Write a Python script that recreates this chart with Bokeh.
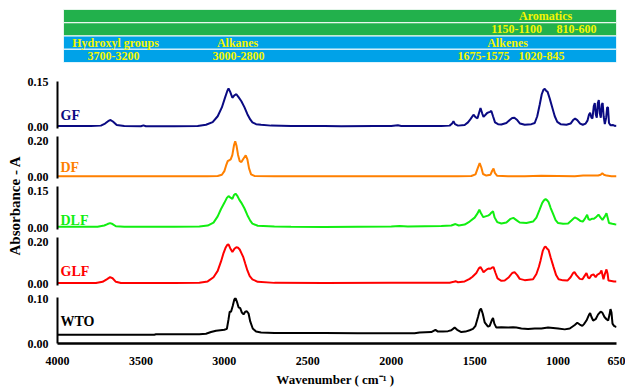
import math
from bokeh.plotting import figure
from bokeh.models import Range1d, FixedTicker, Label, PrintfTickFormatter
from bokeh.layouts import row, column
from bokeh.embed import file_html
from bokeh.resources import INLINE
from bokeh.core.properties import value

FONT = "Liberation Serif"

# ---------------- data ----------------
x_ticks = [4000, 3500, 3000, 2500, 2000, 1500, 1000, 650]

band_colors = ["#22B14C", "#22B14C", "#00A2E8", "#00A2E8"]
band_bottom = [3, 2, 1, 0]
band_top = [4, 3, 2, 1]
band_left_wn = 3965
band_right_wn = 650
band_labels = ["Aromatics", "1150-1100", "810-600", "Hydroxyl groups", "Alkanes", "Alkenes",
               "3700-3200", "3000-2800", "1675-1575", "1020-845"]
band_label_wn = [1075, 1249, 890, 3652, 2921, 1303, 3664, 2915, 1447, 1099]
band_label_row = [3.5, 2.5, 2.5, 1.5, 1.5, 1.5, 0.5, 0.5, 0.5, 0.5]

gf_wn = [4000, 3800, 3740, 3715, 3695, 3682, 3668, 3645, 3600, 3500, 3485, 3470, 3300, 3160, 3110,
         3070, 3040, 3015, 2995, 2982, 2975, 2965, 2952, 2940, 2928, 2915, 2898, 2880, 2862, 2845,
         2832, 2810, 2780, 2720, 2600, 2400, 2300, 2100, 2000, 1960, 1940, 1800, 1700, 1650, 1635,
         1627, 1618, 1600, 1560, 1540, 1525, 1507, 1495, 1483, 1473, 1465, 1455, 1447, 1435, 1425,
         1417, 1408, 1400, 1390, 1378, 1360, 1340, 1310, 1290, 1275, 1262, 1245, 1228, 1200, 1160,
         1140, 1125, 1110, 1098, 1088, 1080, 1072, 1063, 1050, 1035, 1020, 1005, 985, 950, 925,
         910, 898, 885, 868, 852, 835, 824, 815, 808, 800, 794, 786, 780, 774, 768,
         762, 756, 750, 744, 738, 733, 727, 720, 712, 706, 701, 695, 685, 670, 660, 650]
gf_abs = [0.002, 0.002, 0.003, 0.010, 0.019, 0.022, 0.017, 0.005, 0.002, 0.001, 0.004, 0.001, 0.001, 0.002, 0.006,
          0.015, 0.035, 0.065, 0.100, 0.122, 0.130, 0.118, 0.098, 0.106, 0.110, 0.100, 0.086, 0.066, 0.042, 0.024,
          0.014, 0.008, 0.006, 0.003, 0.002, 0.002, 0.001, 0.002, 0.002, 0.004, 0.002, 0.002, 0.002, 0.003, 0.010,
          0.018, 0.008, 0.003, 0.005, 0.014, 0.025, 0.040, 0.032, 0.028, 0.048, 0.063, 0.045, 0.033, 0.040, 0.046,
          0.048, 0.050, 0.053, 0.035, 0.014, 0.008, 0.007, 0.012, 0.022, 0.029, 0.030, 0.022, 0.010, 0.006, 0.008,
          0.012, 0.035, 0.075, 0.110, 0.125, 0.128, 0.122, 0.118, 0.095, 0.065, 0.035, 0.016, 0.008, 0.006, 0.010,
          0.022, 0.027, 0.022, 0.010, 0.006, 0.010, 0.020, 0.040, 0.047, 0.030, 0.028, 0.070, 0.080, 0.040, 0.030,
          0.080, 0.090, 0.045, 0.030, 0.075, 0.080, 0.035, 0.008, 0.030, 0.065, 0.065, 0.012, 0.004, 0.005, 0.002, 0.003]

df_wn = [4000, 3500, 3100, 3040, 3015, 3000, 2990, 2980, 2972, 2962, 2952, 2942, 2935, 2927, 2918,
         2908, 2898, 2885, 2872, 2862, 2852, 2840, 2820, 2700, 2000, 1800, 1700, 1600, 1520, 1495,
         1482, 1470, 1460, 1450, 1430, 1405, 1395, 1387, 1379, 1365, 1300, 1200, 1100, 1000, 900,
         850, 800, 760, 745, 735, 725, 710, 680, 650]
df_abs = [0.001, 0.001, 0.001, 0.003, 0.010, 0.030, 0.060, 0.085, 0.090, 0.095, 0.120, 0.175, 0.195, 0.170, 0.120,
          0.085, 0.080, 0.100, 0.118, 0.095, 0.045, 0.012, 0.003, 0.001, 0.001, 0.001, 0.002, 0.002, 0.003, 0.012,
          0.045, 0.074, 0.050, 0.014, 0.005, 0.010, 0.032, 0.044, 0.020, 0.004, 0.002, 0.001, 0.004, 0.003, 0.002,
          0.005, 0.006, 0.006, 0.010, 0.018, 0.010, 0.005, 0.002, 0.002]

dlf_wn = [4000, 3760, 3720, 3700, 3685, 3670, 3650, 3600, 3300, 3150, 3100, 3065, 3040, 3020, 3000,
          2985, 2975, 2965, 2952, 2942, 2933, 2922, 2910, 2898, 2880, 2862, 2845, 2832, 2800, 2700,
          2600, 2400, 2200, 2000, 1950, 1900, 1700, 1640, 1615, 1595, 1560, 1530, 1500, 1485, 1472,
          1462, 1448, 1435, 1420, 1410, 1400, 1390, 1380, 1365, 1340, 1310, 1285, 1268, 1250, 1230,
          1190, 1150, 1130, 1112, 1095, 1085, 1075, 1065, 1057, 1045, 1030, 1015, 1000, 970, 940,
          920, 900, 885, 865, 852, 840, 826, 818, 810, 795, 785, 770, 758, 745, 734,
          720, 710, 703, 695, 675, 660, 650]
dlf_abs = [0.003, 0.003, 0.008, 0.014, 0.018, 0.014, 0.005, 0.003, 0.003, 0.004, 0.008, 0.020, 0.045, 0.075, 0.100,
           0.120, 0.127, 0.122, 0.116, 0.132, 0.137, 0.128, 0.112, 0.100, 0.078, 0.050, 0.028, 0.016, 0.007, 0.004,
           0.003, 0.002, 0.003, 0.004, 0.006, 0.004, 0.006, 0.008, 0.014, 0.008, 0.012, 0.024, 0.040, 0.055, 0.072,
           0.058, 0.042, 0.045, 0.048, 0.052, 0.060, 0.066, 0.040, 0.022, 0.016, 0.020, 0.035, 0.039, 0.030, 0.020,
           0.018, 0.024, 0.040, 0.070, 0.100, 0.110, 0.115, 0.110, 0.103, 0.080, 0.055, 0.030, 0.018, 0.015, 0.016,
           0.028, 0.041, 0.036, 0.026, 0.024, 0.035, 0.052, 0.034, 0.031, 0.036, 0.035, 0.044, 0.052, 0.040, 0.031,
           0.045, 0.058, 0.040, 0.018, 0.015, 0.013, 0.012]

glf_wn = [4000, 3770, 3730, 3705, 3685, 3670, 3650, 3620, 3300, 3150, 3100, 3065, 3040, 3020, 3005,
          2993, 2982, 2975, 2965, 2952, 2940, 2928, 2918, 2908, 2895, 2886, 2875, 2862, 2848, 2832,
          2800, 2700, 2400, 2000, 1800, 1650, 1625, 1615, 1600, 1560, 1530, 1513, 1490, 1475, 1465,
          1455, 1447, 1435, 1425, 1417, 1405, 1395, 1387, 1375, 1363, 1340, 1320, 1295, 1275, 1261,
          1245, 1230, 1200, 1150, 1130, 1115, 1105, 1092, 1082, 1075, 1068, 1057, 1045, 1027, 1012,
          997, 970, 944, 925, 910, 902, 890, 870, 854, 842, 830, 820, 812, 800, 788,
          775, 765, 758, 748, 740, 734, 728, 720, 710, 703, 698, 680, 665, 650]
glf_abs = [0.002, 0.002, 0.008, 0.020, 0.030, 0.025, 0.008, 0.002, 0.002, 0.004, 0.010, 0.030, 0.060, 0.105, 0.145,
           0.170, 0.185, 0.186, 0.168, 0.150, 0.165, 0.173, 0.170, 0.162, 0.140, 0.124, 0.095, 0.062, 0.035, 0.020,
           0.008, 0.003, 0.002, 0.003, 0.003, 0.004, 0.008, 0.011, 0.006, 0.010, 0.022, 0.032, 0.050, 0.072, 0.078,
           0.065, 0.054, 0.062, 0.068, 0.071, 0.070, 0.076, 0.078, 0.050, 0.024, 0.013, 0.014, 0.030, 0.050, 0.054,
           0.040, 0.022, 0.016, 0.020, 0.045, 0.080, 0.110, 0.155, 0.172, 0.176, 0.168, 0.160, 0.125, 0.078, 0.040,
           0.020, 0.015, 0.014, 0.030, 0.050, 0.054, 0.040, 0.022, 0.020, 0.035, 0.050, 0.028, 0.025, 0.040, 0.043,
           0.030, 0.042, 0.045, 0.050, 0.062, 0.040, 0.020, 0.045, 0.067, 0.045, 0.014, 0.012, 0.010, 0.010]

wto_wn = [4000, 3420, 3410, 3150, 3110, 3080, 3050, 3000, 2985, 2975, 2968, 2960, 2950, 2940, 2933,
          2925, 2915, 2905, 2895, 2885, 2875, 2865, 2855, 2845, 2830, 2810, 2780, 2700, 2400, 2200,
          2000, 1860, 1830, 1760, 1735, 1720, 1690, 1660, 1640, 1620, 1605, 1580, 1555, 1530, 1510,
          1495, 1480, 1470, 1462, 1452, 1440, 1420, 1410, 1398, 1390, 1382, 1370, 1340, 1300, 1270,
          1250, 1220, 1180, 1140, 1100, 1060, 1030, 1000, 960, 930, 900, 885, 870, 855, 845,
          830, 815, 808, 800, 790, 775, 760, 745, 735, 722, 710, 700, 692, 686, 680,
          674, 665, 650]
wto_abs = [0.020, 0.020, 0.021, 0.021, 0.022, 0.026, 0.029, 0.031, 0.033, 0.055, 0.072, 0.072, 0.085, 0.100, 0.103,
           0.095, 0.082, 0.080, 0.070, 0.066, 0.072, 0.073, 0.068, 0.050, 0.034, 0.027, 0.025, 0.024, 0.024, 0.023,
           0.023, 0.023, 0.025, 0.026, 0.031, 0.027, 0.027, 0.028, 0.030, 0.036, 0.031, 0.026, 0.027, 0.030, 0.033,
           0.040, 0.060, 0.075, 0.079, 0.068, 0.048, 0.038, 0.040, 0.052, 0.058, 0.045, 0.036, 0.037, 0.036, 0.037,
           0.036, 0.034, 0.033, 0.034, 0.034, 0.036, 0.035, 0.034, 0.032, 0.034, 0.042, 0.047, 0.043, 0.040, 0.044,
           0.052, 0.065, 0.069, 0.060, 0.052, 0.055, 0.066, 0.072, 0.070, 0.060, 0.055, 0.052, 0.065, 0.078, 0.070,
           0.045, 0.040, 0.037]

# ---------------- layout ----------------
TITLE_W = 23
LEFT, RIGHT = 34, 9
PW = 625 - TITLE_W
TOTAL_H = 389
xr = Range1d(4000, 650)


def base_fig(height, y_range, btop, bbottom):
    p = figure(width=PW, height=height, x_range=xr, y_range=y_range,
               output_backend="svg", toolbar_location=None,
               min_border_left=LEFT, min_border_right=RIGHT,
               min_border_top=btop, min_border_bottom=bbottom)
    p.outline_line_color = None
    p.xgrid.visible = False
    p.ygrid.visible = False
    p.background_fill_color = None
    p.border_fill_color = None
    return p


def panel(wn, ab, color, name, y0, y1, top_tick, btop, frame_h, bbot, label_y, last=False):
    p = base_fig(btop + frame_h + bbot, Range1d(y0, y1), btop, bbot)
    p.line(wn, ab, line_color=color, line_width=2)
    ya = p.yaxis[0]
    ya.ticker = FixedTicker(ticks=[0, top_tick])
    ya.formatter = PrintfTickFormatter(format="%.2f")
    ya.major_tick_line_color = None
    ya.minor_tick_line_color = None
    ya.axis_line_width = 2
    ya.axis_line_color = "black"
    ya.major_label_standoff = 3
    ya.major_label_text_font = FONT
    ya.major_label_text_font_style = "bold"
    ya.major_label_text_font_size = "12px"
    ya.major_label_text_color = "black"
    xa = p.xaxis[0]
    if last:
        xa.ticker = FixedTicker(ticks=x_ticks)
        xa.formatter = PrintfTickFormatter(format="%d")
        xa.major_tick_line_color = None
        xa.minor_tick_line_color = None
        xa.axis_line_width = 2.5
        xa.axis_line_color = "black"
        xa.major_label_standoff = 7
        xa.major_label_text_font = FONT
        xa.major_label_text_font_style = "bold"
        xa.major_label_text_font_size = "12px"
        xa.major_label_text_color = "black"
        xa.axis_label = "Wavenumber  ( cm\u207b\u00b9 )"
        xa.axis_label_standoff = 4
        xa.axis_label_text_font = FONT
        xa.axis_label_text_font_style = "bold"
        xa.axis_label_text_font_size = "13px"
        xa.axis_label_text_color = "black"
    else:
        xa.visible = False
    p.add_layout(Label(x=3982, y=label_y, text=name, text_color=color, text_font=FONT,
                       text_font_style="bold", text_font_size="14px",
                       text_align="left", text_baseline="middle"))
    return p


# bands (figure spans page y 0..64, coloured rows 9..62)
bands = base_fig(64, Range1d(0, 4), 9, 2)
bands.xaxis.visible = False
bands.yaxis.visible = False
bands.quad(left=[band_left_wn] * 4, right=[band_right_wn] * 4, bottom=band_bottom, top=band_top,
           fill_color=band_colors, line_color="white", line_width=1)
bands.text(x=band_label_wn, y=band_label_row, text=band_labels, text_font=value(FONT),
           text_font_style="bold", text_font_size="12px", text_color="#F5F500",
           text_align="center", text_baseline="middle")

gf = panel(gf_wn, gf_abs, "#0A0A82", "GF", -0.0068, 0.1534, 0.15, 17, 47, 5, 0.0375)
df = panel(df_wn, df_abs, "#FF8000", "DF", -0.0111, 0.2222, 0.20, 3, 42, 5, 0.05)
dlf = panel(dlf_wn, dlf_abs, "#11EE11", "DLF", -0.0081, 0.1662, 0.15, 3, 43, 5, 0.027)
glf = panel(glf_wn, glf_abs, "#FF0000", "GLF", -0.0095, 0.219, 0.20, 3, 48, 5, 0.057)
wto = panel(wto_wn, wto_abs, "#000000", "WTO", 0, 0.1042, 0.10, 7, 50, 42, 0.05, last=True)

# y axis title
tfig = figure(width=TITLE_W, height=TOTAL_H, x_range=Range1d(0, TITLE_W), y_range=Range1d(0, TOTAL_H),
              output_backend="svg", toolbar_location=None, min_border=0)
tfig.axis.visible = False
tfig.grid.visible = False
tfig.outline_line_color = None
tfig.add_layout(Label(x=14, y=TOTAL_H - 205, text="Absorbance - A", angle=math.pi / 2,
                      text_align="center", text_baseline="middle", text_font=FONT,
                      text_font_style="bold", text_font_size="15px", text_color="black"))

layout = row(tfig, column(bands, gf, df, dlf, glf, wto))

open("out.html", "w").write(file_html(layout, INLINE))
